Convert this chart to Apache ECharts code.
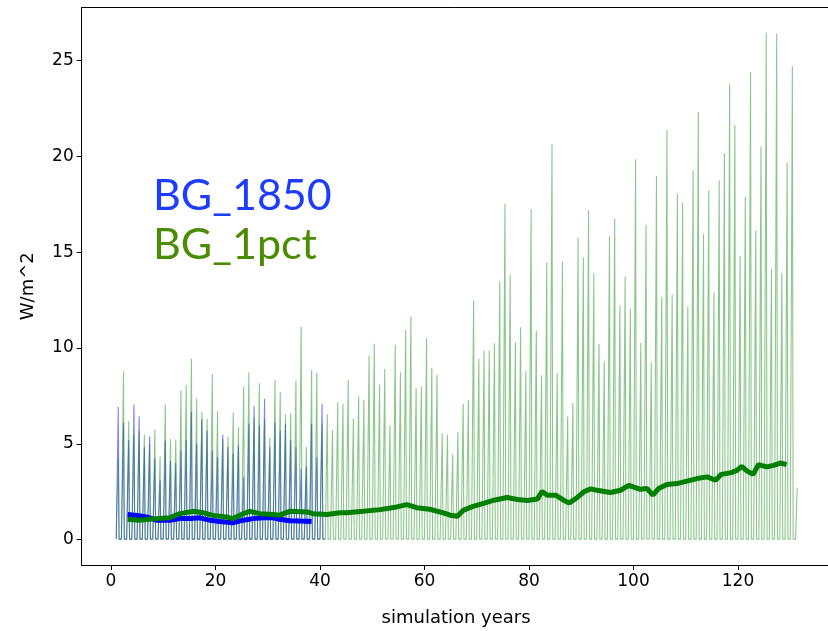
<!DOCTYPE html>
<html>
<head>
<meta charset="utf-8">
<script src="https://cdn.jsdelivr.net/npm/echarts@6/dist/echarts.min.js"></script>
<style>html,body{margin:0;padding:0;background:#fff;overflow:hidden}#c{width:828px;height:631px}</style>
</head>
<body>
<div id="c"></div>
<script>
// Annual peak values (W/m^2) of the monthly series, one per simulation year starting at year 1
const greenPeaks = [4.2,8.79,6.19,5.5,5.7,5.49,5.0,5.74,4.35,7.06,5.25,5.22,7.78,8.08,9.44,7.35,6.66,6.3,8.65,6.72,
5.27,5.38,6.64,5.88,8.0,8.74,6.4,8.16,6.3,5.32,8.34,7.7,6.53,6.6,8.31,11.12,4.84,8.86,8.72,6.05,
6.55,5.72,7.18,7.1,8.34,6.31,7.47,7.3,9.61,10.22,8.08,8.91,5.96,10.17,8.74,10.95,11.64,7.91,7.99,10.51,
8.97,8.6,5.56,5.48,4.45,5.63,7.09,7.27,12.47,9.44,9.87,9.87,10.25,13.48,17.54,13.83,10.3,11.08,8.83,17.25,
10.9,8.57,14.47,20.65,8.69,14.52,6.43,7.13,15.77,14.73,17.19,13.9,10.22,9.31,15.82,16.76,12.21,13.72,12.07,19.85,
10.27,16.43,9.26,18.97,12.65,21.38,12.79,18.06,17.6,12.16,19.28,22.32,15.95,18.24,12.9,18.76,20.17,23.81,21.64,14.8,
17.89,24.4,16.12,20.53,26.45,14.12,26.4,13.9,19.68,24.71];
const greenLastValue = 2.72;   // series ends mid-rise in year 131
const bluePeaks = [6.92,6.1,5.2,7.06,6.43,4.84,5.4,4.23,3.1,5.18,4.1,4.0,4.66,5.2,6.66,5.0,6.3,5.7,4.66,4.3,
5.49,4.84,4.49,4.92,3.28,6.05,6.99,5.97,7.35,4.84,6.1,5.7,6.05,5.2,4.84,3.7,3.8,6.05,4.3,7.09];
const troughValue = 0.03;

// Running means
const greenMeanYears = [3.2,5.4,8.7,11.3,13.2,15.7,17.6,19.5,22.1,23.3,25.3,26.6,28.5,31.0,32.3,34.2,37.5,38.7,41.3,43.8,
45.1,48.3,51.5,54.7,56.6,58.5,61.0,63.6,64.9,66.3,67.4,69.3,71.3,73.3,75.8,77.8,79.7,81.6,82.5,83.5,
85.1,86.7,87.7,89.2,90.5,91.8,93.0,95.6,97.5,99.1,101.3,102.6,103.7,104.8,106.4,108.3,110.2,112.2,114.1,115.7,
116.8,118.7,119.8,120.7,121.7,122.9,123.9,125.5,126.8,128.1,129.3];
const greenMeanValues = [1.07,1.02,1.10,1.15,1.36,1.48,1.41,1.27,1.19,1.10,1.36,1.48,1.36,1.31,1.28,1.48,1.45,1.36,1.31,1.41,
1.41,1.48,1.57,1.71,1.83,1.67,1.59,1.40,1.28,1.22,1.53,1.74,1.90,2.06,2.20,2.10,2.05,2.12,2.52,2.32,
2.32,2.05,1.92,2.19,2.50,2.65,2.58,2.46,2.58,2.84,2.63,2.67,2.32,2.67,2.88,2.93,3.06,3.19,3.28,3.10,
3.41,3.50,3.62,3.83,3.59,3.41,3.92,3.80,3.88,4.00,3.92];
const blueMeanYears = [3.2,5.0,6.8,8.7,11.3,13.2,15.1,17.0,18.9,20.9,23.3,25.3,27.2,29.1,31.0,32.3,34.2,36.2,38.4];
const blueMeanValues = [1.31,1.26,1.19,1.02,1.02,1.10,1.10,1.14,1.02,0.95,0.88,1.02,1.10,1.15,1.14,1.07,0.99,0.97,0.95];

const xTicks = [0,20,40,60,80,100,120];
const yTicks = [0,5,10,15,20,25];
const names = ['BG_1850','BG_1pct'];

function spikes(peaks, firstYear) {
  const pts = [];
  peaks.forEach((p, i) => {
    const y = firstYear + i;
    pts.push([y, troughValue], [y + 0.25, troughValue], [y + 0.4, p], [y + 0.55, troughValue]);
  });
  return pts;
}
const greenData = spikes(greenPeaks, 1);
greenData.push([131, troughValue], [131.25, troughValue], [131.33, greenLastValue]);
const blueData = spikes(bluePeaks, 1);
blueData.push([41, troughValue]);
const zip = (a, b) => a.map((v, i) => [v, b[i]]);

const chart = echarts.init(document.getElementById('c'), null, {renderer: 'canvas'});
const font = 'DejaVu Sans';
const xRange = {min: -5.6, max: 137.7};
chart.setOption({
  animation: false,
  backgroundColor: '#fff',
  grid: {left: 81.7, top: 7.5, width: 748.8, height: 557.5, show: false, outerBoundsMode: 'none', containLabel: false},
  graphic: [{
    type: 'rect', z: 100, silent: true,
    shape: {x: 818, y: 9, width: 12, height: 555},
    style: {fill: '#fff'}
  }],
  legend: {
    orient: 'vertical', left: 143, top: 170, itemGap: 6, icon: 'none', itemWidth: 0, itemHeight: 0,
    selectedMode: false,
    textStyle: {fontFamily: 'Lato', fontSize: 43},
    data: [
      {name: names[0], textStyle: {color: '#1e3cff'}},
      {name: names[1], textStyle: {color: '#4b8c00'}}
    ]
  },
  xAxis: [{
    type: 'value', min: xRange.min, max: xRange.max,
    name: 'simulation years', nameLocation: 'middle', nameGap: 44,
    nameTextStyle: {fontFamily: font, fontSize: 18, color: '#000'},
    axisLine: {onZero: false, lineStyle: {color: '#000', width: 1}},
    axisTick: {show: true, length: 5, customValues: xTicks, lineStyle: {color: '#000'}},
    axisLabel: {customValues: xTicks, fontFamily: font, fontSize: 17, color: '#000', margin: 8},
    splitLine: {show: false}
  }, {
    type: 'value', position: 'top', min: xRange.min, max: xRange.max,
    axisLine: {show: true, onZero: false, lineStyle: {color: '#000', width: 1}},
    axisTick: {show: false}, axisLabel: {show: false}, splitLine: {show: false}
  }],
  yAxis: {
    type: 'value', min: -1.32, max: 27.77,
    name: 'W/m^2', nameLocation: 'middle', nameGap: 44, nameRotate: 90,
    nameTextStyle: {fontFamily: font, fontSize: 18, color: '#000'},
    axisLine: {show: true, onZero: false, lineStyle: {color: '#000', width: 1}},
    axisTick: {show: true, length: 5, customValues: yTicks, lineStyle: {color: '#000'}},
    axisLabel: {customValues: yTicks, fontFamily: font, fontSize: 17, color: '#000', margin: 8},
    splitLine: {show: false}
  },
  series: [
    {name: names[0], type: 'line', data: blueData, showSymbol: false, symbol: 'none',
     lineStyle: {color: '#0000ff', width: 1.1, opacity: 0.5}, itemStyle: {color: '#0000ff'}, z: 1},
    {name: names[1], type: 'line', data: greenData, showSymbol: false, symbol: 'none',
     lineStyle: {color: '#008000', width: 1.1, opacity: 0.45}, itemStyle: {color: '#008000'}, z: 2},
    {name: names[0], type: 'line', data: zip(blueMeanYears, blueMeanValues), showSymbol: false, symbol: 'none',
     lineStyle: {color: '#0000ff', width: 5}, z: 3},
    {name: names[1], type: 'line', data: zip(greenMeanYears, greenMeanValues), showSymbol: false, symbol: 'none',
     lineStyle: {color: '#007f00', width: 5}, z: 4}
  ]
});
</script>
</body>
</html>
